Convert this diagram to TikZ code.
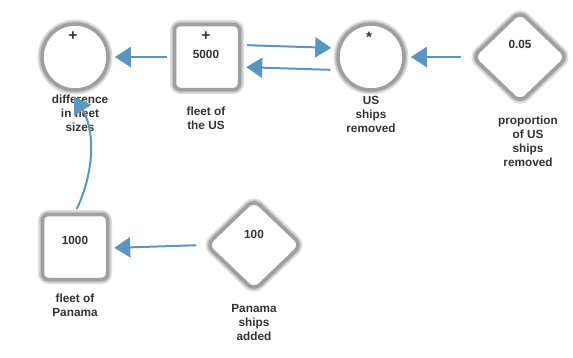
\documentclass[tikz,border=0pt]{standalone}
\usepackage{fontspec}
\setmainfont{Liberation Sans}
\usetikzlibrary{shapes.geometric,arrows.meta}
\definecolor{arrowblue}{HTML}{5A96C0}
\definecolor{txtgray}{HTML}{333333}

\begin{document}
\begin{tikzpicture}[x=1pt, y=-1pt, font=\fontsize{11.8}{14}\selectfont\bfseries, text=txtgray,
	soft/.style={fill=white, draw=gray!75, line width=3.5pt, preaction={draw=gray!25, line width=9pt}, preaction={draw=gray!45, line width=6pt}},
	var/.style={soft, circle, minimum size=66pt, inner sep=0pt},
	stock/.style={soft, rectangle, rounded corners=6pt, minimum size=65pt, inner sep=0pt},
	const/.style={soft, diamond, minimum width=96pt, minimum height=92pt, inner sep=0pt, rounded corners=8pt},
	sign/.style={font=\fontsize{15}{15}\selectfont\bfseries},
	lbl/.style={align=center},
	flow/.style={-{Triangle[length=16pt,width=20pt]}, draw=arrowblue, line width=2pt, shorten >=5pt, shorten <=6pt}]
	\useasboundingbox (0,0) rectangle (573,357);
	% shapes
	\node[var] (diff) at (75,57) {};
	\node[stock] (usfleet) at (207,57) {};
	\node[var] (usremoved) at (371,57) {};
	\node[const] (proportion) at (520,57) {};
	\node[stock] (panamafleet) at (75,247) {};
	\node[const] (panamaadded) at (254,245) {};
	% signs and values
	\node[sign] (diffsign) at (73,36) {+};
	\node[sign] (usfleetsign) at (206,36) {+};
	\node (usfleetval) at (206,54) {5000};
	\node[sign] (usremovedsign) at (369,37) {*};
	\node (proportionval) at (520,44) {0.05};
	\node (panamafleetval) at (75,240) {1000};
	\node (panamaaddedval) at (254,234) {100};
	% names
	\node[lbl] (difflbl) at (80,113) {difference\\in fleet\\sizes};
	\node[lbl] (usfleetlbl) at (206,118) {fleet of\\the US};
	\node[lbl] (usremovedlbl) at (371,114) {US\\ships\\removed};
	\node[lbl] (proportionlbl) at (528,141) {proportion\\of US\\ships\\removed};
	\node[lbl] (panamafleetlbl) at (75,305) {fleet of\\Panama};
	\node[lbl] (panamaaddedlbl) at (254,322) {Panama\\ships\\added};
	% links
	\draw[flow] (usfleet.west) -- (diff.east);
	\draw[flow] ([yshift=12pt]usfleet.east) -- ([yshift=9pt]usremoved.west);
	\draw[flow] ([yshift=-13pt]usremoved.west) -- ([yshift=-10pt]usfleet.east);
	\draw[flow, shorten <=9pt] (proportion.west) -- (usremoved.east);
	\draw[flow, shorten <=8pt] (panamaadded.west) -- ([yshift=-1pt]panamafleet.east);
	\draw[flow, shorten <=4pt, shorten >=6pt] (panamafleet.north) .. controls (96,168) and (94,128) .. ([xshift=-4pt]diff.south);
\end{tikzpicture}
\end{document}
